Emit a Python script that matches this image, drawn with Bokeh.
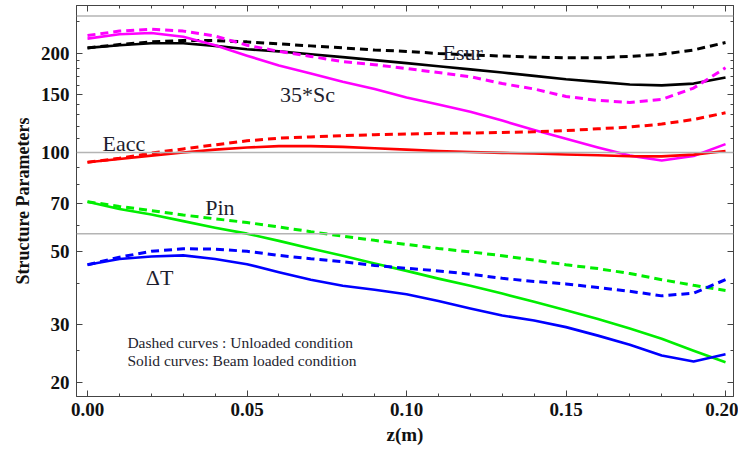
from bokeh.plotting import figure
from bokeh.models import (Range1d, LinearAxis, LogAxis, FixedTicker, SingleIntervalTicker,
                          PrintfTickFormatter, Span, CustomLabelingPolicy)
from bokeh.embed import file_html
from bokeh.resources import INLINE
from bokeh.core.properties import value

# ---------------- data ----------------
z = [0.00, 0.01, 0.02, 0.03, 0.04, 0.05, 0.06, 0.07, 0.08, 0.09, 0.10,
     0.11, 0.12, 0.13, 0.14, 0.15, 0.16, 0.17, 0.18, 0.19, 0.20]

esur_loaded = [208, 212, 215, 215, 211, 206, 203, 199, 195, 191, 187,
               183, 179, 175, 171, 167, 164, 161, 160, 162, 169]
esur_unloaded = [208, 213, 217, 219, 219, 217, 214, 211, 208, 205, 203,
                 200, 198, 196.5, 195, 194, 194, 196, 199, 205, 216]

sc35_loaded = [222, 229, 231, 225, 212, 197, 184, 174, 164, 156, 147,
               140, 133, 125, 117, 110, 103.5, 97.8, 94.5, 97.5, 106]
sc35_unloaded = [227, 234, 237, 234, 226, 212, 203, 196, 189, 185, 180,
                 175, 170, 162, 156, 148, 144, 142, 145, 157, 181]

eacc_loaded = [93.3, 95.5, 97.8, 100, 102, 103.5, 104.5, 104.5, 104, 103, 102,
               101, 100.3, 99.7, 99.2, 98.6, 98.0, 97.4, 97.3, 98.5, 101]
eacc_unloaded = [93.3, 96, 99.5, 102.5, 105.5, 108.5, 110.5, 111.5, 112.5, 113.2, 113.8,
                 114.3, 114.6, 115, 115.5, 116.5, 118, 119.5, 122, 126, 132]

pin_loaded = [70.8, 67.3, 64.7, 61.8, 59.0, 56.6, 53.8, 51.0, 48.5, 45.9, 43.6,
              41.3, 39.3, 37.2, 35.1, 33.1, 31.1, 29.1, 27.1, 24.9, 23.0]
pin_unloaded = [70.8, 68.5, 66.5, 64.5, 62.8, 61.2, 59.3, 57.4, 55.6, 54.0, 52.5,
                51.0, 49.8, 48.5, 47.0, 45.5, 44.3, 42.8, 41.0, 39.4, 38.0]

dt_loaded = [45.5, 47.4, 48.2, 48.6, 47.4, 45.7, 43.2, 41.0, 39.3, 38.2, 37.0,
             35.3, 33.5, 31.9, 30.8, 29.4, 27.7, 26.0, 24.1, 23.1, 24.3]
dt_unloaded = [45.5, 48.0, 50.0, 50.9, 50.8, 50.0, 48.6, 47.5, 46.5, 45.3, 44.4,
               43.6, 42.6, 41.4, 40.5, 39.8, 38.8, 37.8, 36.6, 37.3, 41.0]

y_ticks = [20, 30, 50, 70, 100, 150, 200]
y_minor_ticks = [25, 40, 60, 80, 90, 110, 120, 130, 140, 160, 170, 180, 190, 250]
ref_lines = [260, 100, 56.6]

label_text = ["Esur", "35*Sc", "Eacc", "Pin", "\u0394T"]
label_x = [0.1176, 0.069, 0.0114, 0.0415, 0.0226]
label_y = [201, 150, 106.4, 68, 41.5]

note_text = ["Dashed curves : Unloaded condition", "Solid curves:  Beam loaded condition"]
note_x = [0.0125, 0.0125]
note_y = [26.4, 23.2]

# ---------------- figure ----------------
SERIF = "Liberation Serif"
FRAME = "#444444"

p = figure(width=738, height=449, y_axis_type="log",
           x_range=Range1d(-0.00345, 0.2025), y_range=Range1d(18.08, 280),
           output_backend="svg", toolbar_location=None,
           min_border_left=76, min_border_right=5, min_border_top=5, min_border_bottom=53)
p.background_fill_color = "white"
p.border_fill_color = "white"
p.outline_line_color = FRAME
p.grid.visible = False

for v in ref_lines:
    p.add_layout(Span(location=v, dimension="width", line_color="#b4b4b4", line_width=1.5))

series = [
    (esur_loaded, esur_unloaded, "black"),
    (sc35_loaded, sc35_unloaded, "#ff00ff"),
    (eacc_loaded, eacc_unloaded, "#ff0000"),
    (pin_loaded, pin_unloaded, "#00ee00"),
    (dt_loaded, dt_unloaded, "#0000ff"),
]
for loaded, unloaded, col in series:
    p.line(z, unloaded, line_color=col, line_width=3, line_dash="8 5")
    p.line(z, loaded, line_color=col, line_width=2.6, line_join="round")

p.text(x=label_x, y=label_y, text=label_text, text_font=value(SERIF),
       text_font_size=value("22px"), text_color="#1e1e2e",
       text_align="center", text_baseline="alphabetic")
p.text(x=note_x, y=note_y, text=note_text, text_font=value(SERIF),
       text_font_size=value("15.5px"), text_color="#1e1e2e",
       text_align="left", text_baseline="alphabetic")

x_ticker = SingleIntervalTicker(interval=0.05, num_minor_ticks=5)
y_ticker = FixedTicker(ticks=y_ticks, minor_ticks=y_minor_ticks)


def style(ax):
    ax.axis_line_color = FRAME
    ax.major_tick_line_color = FRAME
    ax.minor_tick_line_color = FRAME
    ax.major_tick_in = 6
    ax.major_tick_out = 0
    ax.minor_tick_in = 3
    ax.minor_tick_out = 0
    ax.major_label_text_font = SERIF
    ax.major_label_text_font_style = "bold"
    ax.major_label_text_color = "#111111"
    ax.axis_label_text_font = SERIF
    ax.axis_label_text_font_style = "bold"
    ax.axis_label_text_color = "#111111"


def hide_labels(ax):
    ax.major_label_text_font_size = "0px"
    ax.major_label_standoff = 0
    ax.major_label_policy = CustomLabelingPolicy(code="""
        try { for (let i = 0; i < indices.size; i++) { indices.unset(i) } } catch (e) {}
        return indices
    """)


xa = p.xaxis[0]
xa.ticker = x_ticker
xa.formatter = PrintfTickFormatter(format="%.2f")
style(xa)
xa.major_label_text_font_size = "19px"
xa.major_label_standoff = 6
xa.axis_label = "z(m)"
xa.axis_label_text_font_size = "19px"
xa.axis_label_standoff = 5

ya = p.yaxis[0]
ya.ticker = y_ticker
ya.formatter = PrintfTickFormatter(format="%d")
style(ya)
ya.major_label_text_font_size = "19px"
ya.major_label_standoff = 7
ya.axis_label = "Structure Parameters"
ya.axis_label_text_font_size = "18px"
ya.axis_label_standoff = 5

top = LinearAxis(ticker=SingleIntervalTicker(interval=0.05, num_minor_ticks=5))
style(top)
hide_labels(top)
p.add_layout(top, "above")

right = LogAxis(ticker=FixedTicker(ticks=y_ticks, minor_ticks=y_minor_ticks))
style(right)
hide_labels(right)
p.add_layout(right, "right")

open("out.html", "w").write(file_html(p, INLINE))
